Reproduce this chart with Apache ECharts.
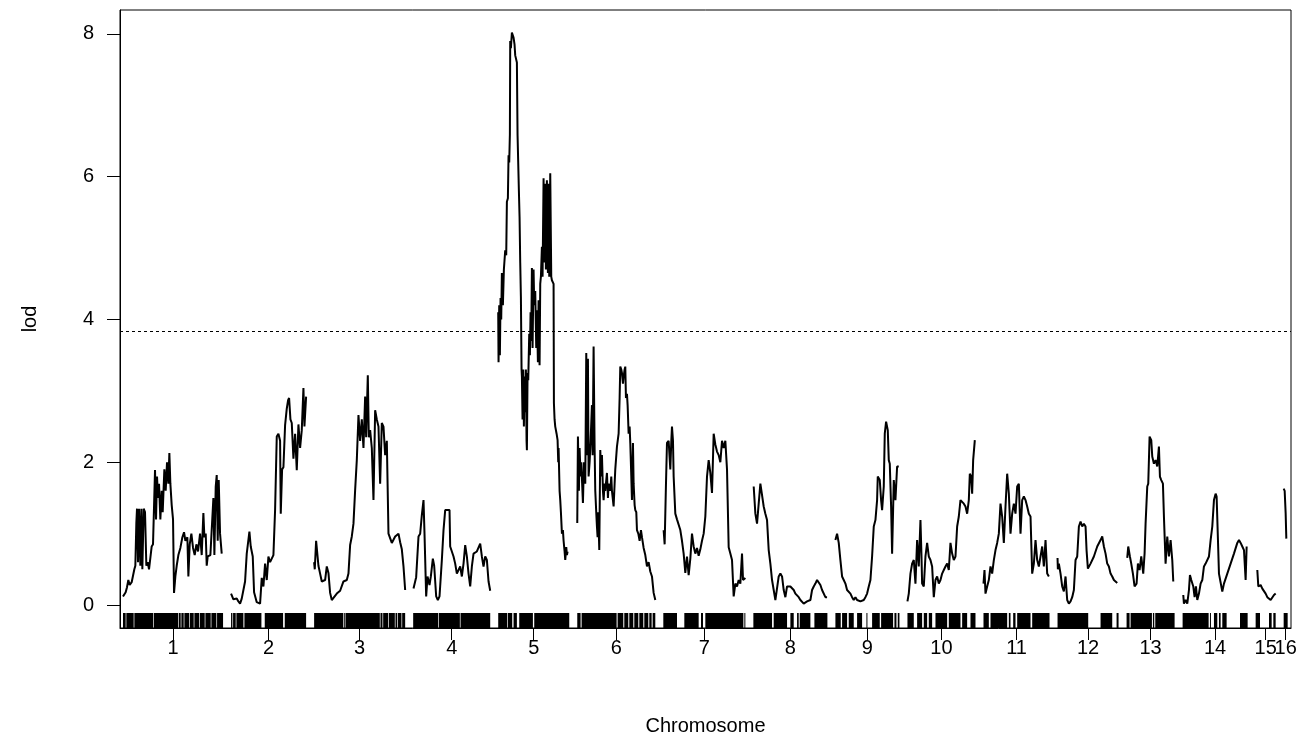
<!DOCTYPE html>
<html>
<head>
<meta charset="utf-8">
<script src="https://cdn.jsdelivr.net/npm/echarts@6/dist/echarts.min.js"></script>
<style>html,body{margin:0;padding:0;background:#fff}#chart{width:1302px;height:741px}</style>
</head>
<body>
<div id="chart"></div>
<script>
// ---- data (positions in cM within each chromosome, LOD scores) ----
const chromNames = ['1','2','3','4','5','6','7','8','9','10','11','12','13','14','15','16'];
const chromLengths = [300,225,273,231,213,234,246,222,192,204,198,183,144,195,60,12];
const chromGap = 24;
const threshold = 3.84;
const yTicks = [0,2,4,6,8];

const lodChr1 = [[0,0.12],[8,0.18],[12,0.25],[16,0.35],[20,0.28],[26,0.32],[30,0.3],[34,0.5],[37,0.55],[40,1.15],[42,1.35],[45,0.6],[48,1.35],[52,0.55],[55,1.35],[58,0.5],[62,1.35],[66,1.3],[70,0.55],[74,0.6],[78,0.5],[82,0.5],[86,0.82],[90,0.85],[96,1.89],[99,1.2],[102,1.8],[105,1.5],[108,1.7],[112,1.2],[116,1.6],[119,1.3],[124,1.9],[128,1.6],[132,2.0],[136,1.7],[139,2.13],[142,1.7],[146,1.4],[150,1.2],[153,0.17],[157,0.4],[161,0.55],[166,0.7],[172,0.8],[178,0.95],[183,1.02],[187,0.9],[193,0.95],[196,0.4],[200,0.85],[205,1.0],[210,0.8],[215,0.7],[220,0.85],[225,0.75],[231,1.0],[236,0.7],[241,1.29],[244,0.95],[248,1.0],[251,0.55],[254,0.68],[258,0.68],[262,0.7],[266,0.68],[271,1.5],[274,0.7],[278,1.66],[281,1.82],[284,0.9],[287,1.75],[291,1.0],[296,0.72]];
const lodChr2 = [[0,0.16],[7,0.08],[17,0.09],[22,0.05],[27,0.02],[32,0.09],[42,0.33],[47,0.72],[55,1.03],[59,0.82],[65,0.68],[69,0.18],[77,0.04],[87,0.02],[92,0.38],[97,0.26],[102,0.58],[107,0.35],[112,0.68],[117,0.6],[127,0.7],[132,1.33],[137,2.36],[142,2.4],[147,2.3],[149,1.28],[153,1.9],[157,1.93],[162,2.52],[167,2.75],[171,2.87],[174,2.9],[178,2.6],[182,2.55],[187,2.05],[192,2.4],[197,1.89],[202,2.53],[207,2.2],[212,2.45],[217,3.04],[220,2.5],[225,2.92]];
const lodChr3 = [[0,0.6],[2,0.5],[6,0.9],[13,0.55],[18,0.44],[23,0.33],[33,0.35],[38,0.54],[43,0.45],[48,0.17],[53,0.07],[58,0.05],[68,0.16],[78,0.2],[88,0.33],[98,0.35],[103,0.44],[108,0.84],[113,0.96],[118,1.14],[123,1.61],[128,2.03],[133,2.66],[138,2.3],[143,2.6],[148,2.2],[153,2.92],[156,2.35],[161,3.22],[164,2.35],[168,2.45],[173,2.2],[178,1.47],[183,2.73],[188,2.6],[193,2.5],[198,1.7],[203,2.55],[208,2.5],[213,2.1],[218,2.3],[223,1.0],[228,0.98],[233,0.87],[243,0.96],[253,1.0],[258,0.88],[263,0.78],[268,0.54],[273,0.21]];
const lodChr4 = [[1,0.23],[9,0.39],[16,0.96],[21,1.0],[26,1.26],[31,1.47],[34,1.0],[39,0.12],[43,0.4],[49,0.28],[53,0.4],[59,0.65],[63,0.55],[69,0.12],[74,0.07],[79,0.12],[86,0.63],[91,1.05],[96,1.33],[101,1.35],[109,1.33],[111,0.82],[121,0.68],[126,0.58],[131,0.44],[136,0.42],[141,0.54],[146,0.4],[151,0.58],[156,0.84],[161,0.68],[166,0.44],[171,0.26],[176,0.54],[181,0.72],[191,0.75],[201,0.86],[206,0.68],[211,0.54],[216,0.68],[221,0.63],[226,0.33],[231,0.2]];
const lodChr5 = [[0,4.1],[1,3.4],[3,4.2],[5,3.5],[7,4.3],[9,4.0],[11,4.65],[14,4.2],[17,4.7],[21,4.97],[24,4.9],[26,5.65],[29,5.7],[31,6.3],[33,6.2],[35,6.6],[36,7.9],[38,7.8],[41,8.02],[44,8.0],[46,7.95],[49,7.85],[51,7.7],[54,7.68],[56,7.6],[58,6.58],[62,5.8],[64,5.44],[66,4.8],[68,4.32],[70,3.3],[71,3.2],[73,2.6],[75,3.3],[77,2.5],[79,3.2],[81,2.7],[83,3.3],[85,2.3],[86,2.17],[88,3.25],[90,3.15],[93,3.8],[95,3.5],[97,4.1],[99,3.7],[101,4.72],[103,3.6],[106,4.7],[108,4.2],[111,4.4],[114,3.6],[116,4.13],[119,3.4],[121,4.27],[124,3.36],[126,4.5],[128,4.6],[131,5.02],[133,4.6],[136,5.98],[138,4.8],[141,5.9],[143,4.7],[146,5.95],[149,4.65],[151,5.9],[153,4.6],[156,6.05],[159,4.6],[161,4.55],[164,4.55],[166,4.5],[167,2.83],[169,2.6],[171,2.5],[175,2.4],[178,2.31],[180,2.0],[181,2.2],[184,1.6],[186,1.47],[188,1.3],[191,1.0],[194,1.05],[196,0.9],[199,0.75],[201,0.63],[204,0.81],[206,0.7],[208,0.75]];
const lodChr6 = [[0,1.15],[2,2.36],[5,1.6],[7,2.2],[10,1.8],[12,2.0],[17,1.43],[20,2.0],[24,1.7],[27,3.53],[30,2.1],[32,3.45],[34,1.8],[37,2.0],[40,2.3],[44,2.8],[46,2.1],[49,3.62],[52,2.2],[54,1.6],[57,1.29],[59,1.1],[61,0.95],[63,1.3],[66,0.77],[69,2.17],[72,1.8],[74,2.1],[77,1.6],[79,1.47],[82,1.7],[84,1.6],[89,1.85],[92,1.5],[94,1.7],[99,1.6],[102,1.8],[104,1.6],[109,1.38],[112,1.7],[114,1.9],[119,2.22],[124,2.4],[127,2.9],[129,3.34],[132,3.3],[134,3.25],[137,3.1],[139,3.2],[142,3.3],[144,3.34],[146,2.9],[149,2.96],[151,2.8],[154,2.4],[157,2.5],[159,2.27],[162,1.8],[164,1.47],[167,2.27],[169,1.7],[172,1.4],[174,1.33],[177,1.3],[179,1.05],[183,1.0],[187,0.9],[191,1.05],[194,0.95],[199,0.8],[204,0.7],[209,0.54],[214,0.6],[219,0.47],[224,0.4],[229,0.17],[234,0.07]];
const lodChr7 = [[1,1.05],[4,0.85],[8,1.7],[11,2.27],[16,2.3],[21,1.9],[24,2.3],[26,2.5],[29,2.3],[31,1.8],[36,1.28],[41,1.2],[51,1.05],[56,0.9],[61,0.72],[66,0.45],[71,0.68],[76,0.42],[81,0.65],[86,1.0],[91,0.82],[96,0.72],[101,0.8],[106,0.69],[111,0.78],[116,0.9],[121,1.0],[126,1.24],[131,1.8],[136,2.03],[141,1.85],[146,1.57],[151,2.4],[156,2.25],[161,2.15],[166,2.1],[171,2.0],[176,2.3],[181,2.2],[186,2.3],[191,1.9],[196,0.81],[201,0.72],[206,0.63],[211,0.12],[216,0.3],[221,0.26],[226,0.35],[231,0.3],[236,0.72],[239,0.35],[246,0.38]];
const lodChr8 = [[1,1.66],[6,1.28],[11,1.14],[16,1.42],[21,1.7],[26,1.7],[31,1.38],[36,1.28],[41,1.19],[46,0.77],[51,0.58],[56,0.35],[61,0.21],[66,0.07],[71,0.07],[76,0.4],[81,0.44],[86,0.4],[91,0.21],[96,0.11],[101,0.26],[106,0.28],[111,0.26],[116,0.28],[121,0.21],[126,0.16],[131,0.16],[136,0.11],[141,0.07],[151,0.02],[161,0.05],[171,0.07],[176,0.21],[181,0.26],[186,0.3],[191,0.35],[196,0.33],[201,0.28],[206,0.21],[211,0.19],[216,0.11],[221,0.11]];
const lodChr9 = [[0,0.91],[5,1.0],[10,0.87],[15,0.63],[20,0.4],[25,0.35],[30,0.3],[35,0.21],[45,0.16],[50,0.11],[55,0.07],[60,0.11],[65,0.07],[75,0.05],[85,0.07],[90,0.11],[95,0.16],[100,0.26],[105,0.35],[110,0.68],[115,1.1],[120,1.19],[125,1.47],[127,1.8],[133,1.75],[137,1.47],[140,1.33],[145,1.66],[148,2.4],[152,2.57],[157,2.45],[160,2.03],[163,1.98],[167,1.38],[170,0.72],[175,1.75],[180,1.47],[185,1.94],[190,1.94]];
const lodChr10 = [[0,0.05],[4,0.16],[9,0.44],[14,0.58],[19,0.63],[24,0.3],[29,0.91],[34,0.54],[39,1.19],[42,0.7],[44,0.3],[49,0.26],[54,0.68],[59,0.87],[64,0.68],[69,0.63],[74,0.54],[79,0.11],[84,0.35],[89,0.4],[94,0.3],[99,0.35],[104,0.44],[109,0.49],[114,0.54],[119,0.58],[124,0.49],[129,0.87],[134,0.72],[139,0.63],[144,0.68],[149,1.1],[154,1.24],[159,1.47],[164,1.47],[169,1.42],[174,1.38],[179,1.28],[184,1.47],[187,1.84],[191,1.8],[194,1.56],[197,2.03],[202,2.31],[204,2.31]];
const lodChr11 = [[0,0.3],[3,0.49],[6,0.16],[11,0.26],[16,0.35],[21,0.54],[26,0.44],[31,0.63],[36,0.77],[41,0.87],[46,1.0],[51,1.42],[56,1.24],[61,0.87],[66,1.38],[71,1.84],[76,1.56],[81,1.0],[86,1.28],[91,1.42],[96,1.28],[101,1.66],[106,1.7],[111,1.0],[116,1.47],[121,1.52],[126,1.47],[131,1.38],[136,1.28],[141,1.24],[146,0.44],[151,0.58],[156,0.91],[161,0.63],[166,0.54],[171,0.68],[176,0.82],[181,0.54],[186,0.91],[191,0.44],[196,0.4]];
const lodChr12 = [[0,0.66],[1,0.5],[4,0.58],[9,0.44],[14,0.26],[19,0.19],[24,0.4],[29,0.07],[34,0.02],[39,0.05],[44,0.11],[49,0.21],[54,0.63],[59,0.68],[64,1.1],[69,1.17],[74,1.1],[79,1.14],[84,1.1],[87,0.77],[91,0.51],[99,0.58],[109,0.68],[119,0.82],[129,0.91],[134,0.96],[139,0.82],[144,0.72],[149,0.58],[154,0.54],[159,0.44],[164,0.4],[169,0.35],[179,0.31]];
const lodChr13 = [[2,0.66],[5,0.82],[10,0.68],[14,0.58],[19,0.44],[24,0.26],[30,0.3],[34,0.58],[39,0.49],[44,0.68],[50,0.44],[54,0.72],[57,1.14],[62,1.66],[65,1.7],[69,2.36],[74,2.31],[77,2.08],[82,1.98],[87,2.03],[92,1.94],[97,2.22],[100,1.8],[104,1.75],[109,1.7],[112,1.24],[117,0.58],[122,0.96],[127,0.68],[132,0.91],[137,0.63],[140,0.33]];
const lodChr14 = [[2,0.14],[4,0.02],[9,0.07],[14,0.02],[19,0.21],[22,0.42],[26,0.35],[32,0.26],[36,0.11],[40,0.26],[44,0.07],[49,0.16],[54,0.3],[59,0.35],[64,0.54],[69,0.58],[74,0.56],[79,0.68],[84,0.91],[89,1.1],[94,1.47],[99,1.56],[102,1.52],[106,0.91],[109,0.44],[114,0.44],[119,0.19],[124,0.3],[134,0.44],[144,0.58],[154,0.72],[164,0.87],[169,0.91],[174,0.87],[179,0.82],[184,0.77],[189,0.35],[192,0.82]];
const lodChr15 = [[5,0.49],[8,0.26],[10,0.26],[15,0.28],[20,0.23],[25,0.21],[30,0.16],[35,0.11],[40,0.09],[45,0.07],[50,0.09],[55,0.14],[60,0.16]];
const lodChr16 = [[0,1.63],[3,1.6],[6,1.28],[8,0.93]];
const lodByChrom = [lodChr1,lodChr2,lodChr3,lodChr4,lodChr5,lodChr6,lodChr7,lodChr8,lodChr9,lodChr10,lodChr11,lodChr12,lodChr13,lodChr14,lodChr15,lodChr16];

// marker coverage (rug), intervals in cM within each chromosome
const markersChr1 = [[0,8],[10,32],[34,90],[92,165],[167,173],[175,182],[184,198],[200,212],[214,228],[230,245],[247,263],[265,280],[282,300]];
const markersChr2 = [[0,4],[6,14],[16,37],[40,91],[101,156],[161,225]];
const markersChr3 = [[0,87],[89,92],[94,197],[199,205],[207,222],[224,242],[244,249],[251,262],[264,273]];
const markersChr4 = [[0,75],[77,140],[142,231]];
const markersChr5 = [[0,27],[29,42],[46,56],[63,104],[108,213]];
const markersChr6 = [[0,10],[13,118],[121,138],[141,153],[156,168],[171,183],[186,198],[201,213],[216,223],[226,234]];
const markersChr7 = [[0,41],[63,106],[113,119],[126,240],[243,246]];
const markersChr8 = [[0,56],[61,101],[111,121],[131,136],[139,171],[183,222]];
const markersChr9 = [[0,16],[20,35],[40,55],[65,80],[93,95],[110,133],[137,173],[177,183],[187,192]];
const markersChr10 = [[0,19],[29,44],[49,59],[64,74],[84,119],[124,159],[164,179],[189,204]];
const markersChr11 = [[0,16],[21,71],[76,81],[89,96],[101,141],[146,198]];
const markersChr12 = [[0,92],[129,164],[177,183]];
const markersChr13 = [[0,9],[12,76],[79,83],[86,144]];
const markersChr14 = [[0,78],[82,84],[94,104],[109,114],[119,132],[172,195]];
const markersChr15 = [[0,13],[40,48],[53,60]];
const markersChr16 = [[0,12]];
const markersByChrom = [markersChr1,markersChr2,markersChr3,markersChr4,markersChr5,markersChr6,markersChr7,markersChr8,markersChr9,markersChr10,markersChr11,markersChr12,markersChr13,markersChr14,markersChr15,markersChr16];

// ---- layout computation ----
const offsets = [];
let acc = 0;
chromLengths.forEach((len) => { offsets.push(acc); acc += len + chromGap; });
const totalEnd = offsets[offsets.length - 1] + chromLengths[chromLengths.length - 1];
const mids = chromLengths.map((len, i) => offsets[i] + len / 2);
const xMin = -9, xMax = totalEnd + 10;
const yMin = -0.322, yMax = 8.336;

const FONT = '"Liberation Sans", Arial, sans-serif';
const series = [];
lodByChrom.forEach((arr, i) => {
  series.push({
    type: 'line',
    data: arr.map(p => [p[0] + offsets[i], p[1]]),
    showSymbol: false,
    symbol: 'none',
    lineStyle: { color: '#000', width: 2 },
    silent: true,
    z: 3,
    markLine: i === 0 ? {
      silent: true, symbol: 'none', label: { show: false },
      lineStyle: { color: '#000', width: 1, type: [3, 3] },
      data: [{ yAxis: threshold }]
    } : undefined
  });
});
const rugData = [];
markersByChrom.forEach((blocks, i) => blocks.forEach(b => rugData.push([b[0] + offsets[i], b[1] + offsets[i]])));
series.push({
  type: 'custom',
  data: rugData,
  silent: true,
  z: 2,
  renderItem: function (params, api) {
    const a = api.coord([api.value(0), yMin]);
    const b = api.coord([api.value(1), yMin]);
    const h = 15;
    return { type: 'rect', shape: { x: a[0], y: a[1] - h, width: Math.max(b[0] - a[0], 1), height: h }, style: { fill: '#000' } };
  },
  encode: { x: [0, 1] }
});

function nameAt(v) {
  let best = 0;
  mids.forEach((m, i) => { if (Math.abs(m - v) < Math.abs(mids[best] - v)) best = i; });
  return chromNames[best];
}
const mainMids = mids.slice(0, mids.length - 1);
const lastMid = [mids[mids.length - 1]];
const xLabelStyle = { fontFamily: FONT, fontSize: 20, color: '#000', margin: 10, hideOverlap: false, formatter: nameAt };

const chart = echarts.init(document.getElementById('chart'), null, { renderer: 'canvas' });
chart.setOption({
  animation: false,
  backgroundColor: '#fff',
  grid: { left: 120, right: 11, top: 10, bottom: 113, show: true, borderColor: '#000', borderWidth: 1, outerBoundsMode: 'none' },
  xAxis: [{
    type: 'value', min: xMin, max: xMax, position: 'bottom',
    name: 'Chromosome', nameLocation: 'middle', nameGap: 88,
    nameTextStyle: { fontFamily: FONT, fontSize: 20, color: '#000' },
    axisLine: { show: true, onZero: false, lineStyle: { color: '#000', width: 1 } },
    axisTick: { show: true, length: 12, inside: false, customValues: mids, lineStyle: { color: '#000', width: 1 } },
    axisLabel: Object.assign({ customValues: mainMids }, xLabelStyle),
    splitLine: { show: false }
  }, {
    type: 'value', min: xMin, max: xMax, position: 'bottom', offset: 0,
    axisLine: { show: false, onZero: false },
    axisTick: { show: false },
    axisLabel: Object.assign({ customValues: lastMid }, xLabelStyle),
    splitLine: { show: false }
  }],
  yAxis: {
    type: 'value', min: yMin, max: yMax,
    name: 'lod', nameLocation: 'middle', nameGap: 80, nameRotate: 90,
    nameTextStyle: { fontFamily: FONT, fontSize: 20, color: '#000' },
    axisLine: { show: true, onZero: false, lineStyle: { color: '#000', width: 1 } },
    axisTick: { show: true, length: 13, inside: false, customValues: yTicks, lineStyle: { color: '#000', width: 1 } },
    axisLabel: { customValues: yTicks, margin: 26, fontFamily: FONT, fontSize: 20, color: '#000' },
    splitLine: { show: false }
  },
  series: series
});
</script>
</body>
</html>
